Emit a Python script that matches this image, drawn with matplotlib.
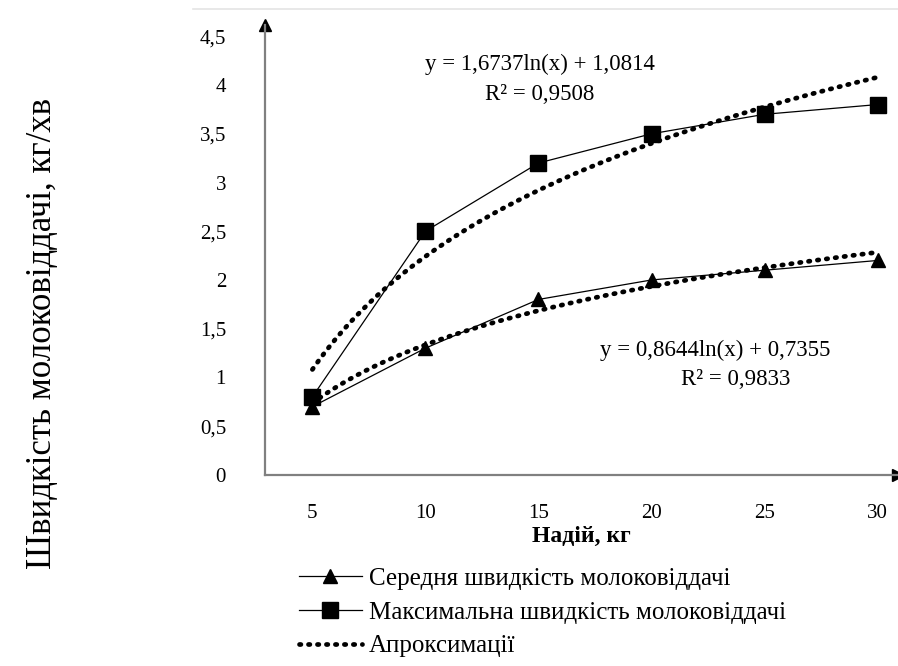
import numpy as np
import matplotlib.pyplot as plt
from matplotlib.lines import Line2D

# milk yield, kg
milk = [5, 10, 15, 20, 25, 30]
# average and maximum milk flow rate, kg/min
avg_rate = [0.7, 1.3, 1.8, 2.0, 2.1, 2.2]
max_rate = [0.8, 2.5, 3.2, 3.5, 3.7, 3.8]
yticks = [0, 0.5, 1, 1.5, 2, 2.5, 3, 3.5, 4, 4.5]
ytick_labels = ['0', '0,5', '1', '1,5', '2', '2,5', '3', '3,5', '4', '4,5']

serif = ['Liberation Serif', 'DejaVu Serif']
plt.rcParams['font.family'] = serif

fig = plt.figure(figsize=(8.98, 6.66), dpi=100)
ax = fig.add_axes([0.295, 0.287, 0.705, 0.676])

dots = (0, (0.3, 1.6))

# log trend on point index, as the spreadsheet does
idx = np.arange(1, len(milk) + 1)
xs = np.linspace(1, len(milk), 200)
xs_kg = milk[0] + (xs - 1) * (milk[1] - milk[0])
for ys in (max_rate, avg_rate):
    k, b = np.polyfit(np.log(idx), ys, 1)
    ax.plot(xs_kg, k * np.log(xs) + b, color='black', lw=3.4,
            linestyle=dots, dash_capstyle='round', zorder=2)

ax.plot(milk, avg_rate, color='black', lw=0.9, marker='^', ms=10, zorder=3)
ax.plot(milk, max_rate, color='black', lw=0.9, marker='s', ms=11, zorder=3)

ax.set_xlim(2.9, 30.9)
ax.set_ylim(0, 4.62)
ax.set_xticks(milk)
ax.set_yticks(yticks)
ax.set_yticklabels(ytick_labels)
ax.tick_params(length=0, labelsize=15)
ax.tick_params(axis='y', pad=28)
ax.tick_params(axis='x', pad=21)
for s in ['top', 'right']:
    ax.spines[s].set_visible(False)
for s in ['left', 'bottom']:
    ax.spines[s].set_color('#808080')
    ax.spines[s].set_linewidth(1.6)

# axis arrows
ax.plot(1, 0, '>', color='black', ms=9, transform=ax.transAxes, clip_on=False)
ax.plot(0, 1, '^', color='black', ms=9, transform=ax.transAxes, clip_on=False)

ax.text(15.07, 4.21, 'y = 1,6737ln(x) + 1,0814', ha='center', va='center', fontsize=16.5)
ax.text(15.07, 3.90, 'R² = 0,9508', ha='center', va='center', fontsize=16.5)
ax.text(22.8, 1.28, 'y = 0,8644ln(x) + 0,7355', ha='center', va='center', fontsize=16.5)
ax.text(23.7, 0.975, 'R² = 0,9833', ha='center', va='center', fontsize=16.5)

ax.set_xlabel('Надій, кг', fontsize=17, fontweight='bold', labelpad=2)
fig.text(0.047, 0.5, 'Швидкість молоковіддачі, кг/хв', rotation=90,
         ha='center', va='center', fontsize=25)

# faint frame line at the top
fig.add_artist(Line2D([0.215, 1.0], [0.987, 0.987], color='#e4e4e4', lw=1.2))

handles = [
    Line2D([], [], color='black', lw=0.9, marker='^', ms=10),
    Line2D([], [], color='black', lw=0.9, marker='s', ms=11),
    Line2D([], [], color='black', lw=3.4, linestyle=dots,
           dash_capstyle='round'),
]
labels = ['Середня швидкість молоковіддачі',
          'Максимальна швидкість молоковіддачі',
          'Апроксимації']
fig.legend(handles, labels, loc='upper left', bbox_to_anchor=(0.322, 0.163),
           frameon=False, fontsize=18, handlelength=2.5, handletextpad=0.3,
           labelspacing=0.45, borderaxespad=0)

fig.savefig('out.png', dpi=100)
